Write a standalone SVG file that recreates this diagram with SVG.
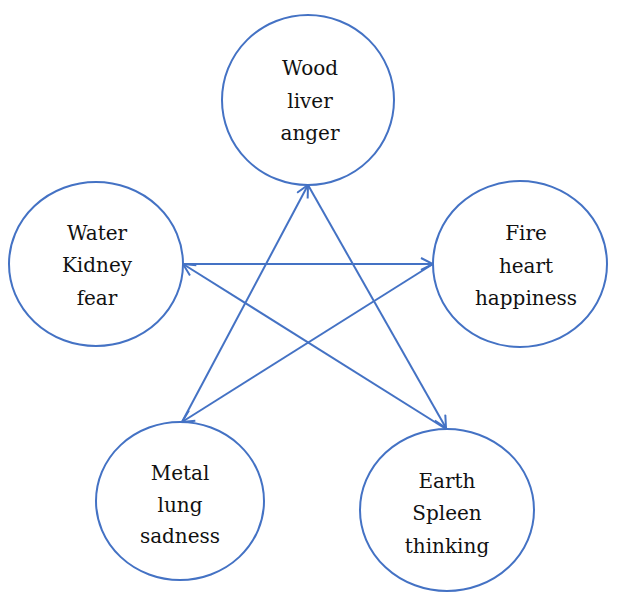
<svg xmlns="http://www.w3.org/2000/svg" width="619" height="592" viewBox="0 0 619 592">
<style>
.n ellipse{fill:#fff;stroke:#4472C4;stroke-width:2}
.n text{font-family:"DejaVu Serif","Liberation Serif","Times New Roman",serif;font-size:20px;fill:#111;text-anchor:middle}
.c line{stroke:#4472C4;stroke-width:2;fill:none}
</style>
<defs>
<marker id="ah" viewBox="0 0 14 14" refX="13" refY="7" markerWidth="14" markerHeight="14" markerUnits="userSpaceOnUse" orient="auto">
<path d="M1,1 L13,7 L1,13" fill="none" stroke="#4472C4" stroke-width="2"/>
</marker>
</defs>
<rect width="619" height="592" fill="#fff"/>
<g id="wood" class="n"><ellipse cx="308" cy="100" rx="86" ry="85"/><text x="310" y="75">Wood</text><text x="310" y="108">liver</text><text x="310" y="140">anger</text></g>
<g id="water" class="n"><ellipse cx="96" cy="264" rx="87" ry="82"/><text x="97" y="240">Water</text><text x="97" y="272">Kidney</text><text x="97" y="305">fear</text></g>
<g id="fire" class="n"><ellipse cx="520" cy="264" rx="87" ry="83"/><text x="526" y="240">Fire</text><text x="526" y="273">heart</text><text x="526" y="305">happiness</text></g>
<g id="metal" class="n"><ellipse cx="180" cy="501" rx="84" ry="79"/><text x="180" y="480">Metal</text><text x="180" y="512">lung</text><text x="180" y="543">sadness</text></g>
<g id="earth" class="n"><ellipse cx="447" cy="510" rx="87" ry="81"/><text x="447" y="488">Earth</text><text x="447" y="520">Spleen</text><text x="447" y="553">thinking</text></g>
<g id="connectors" class="c">
<line x1="308" y1="185" x2="446" y2="428" marker-end="url(#ah)"/>
<line x1="446" y1="429" x2="183" y2="264" marker-end="url(#ah)"/>
<line x1="183" y1="264" x2="433" y2="264" marker-end="url(#ah)"/>
<line x1="433" y1="264" x2="182" y2="422" marker-end="url(#ah)"/>
<line x1="182" y1="422" x2="308" y2="185" marker-end="url(#ah)"/>
</g>
</svg>
